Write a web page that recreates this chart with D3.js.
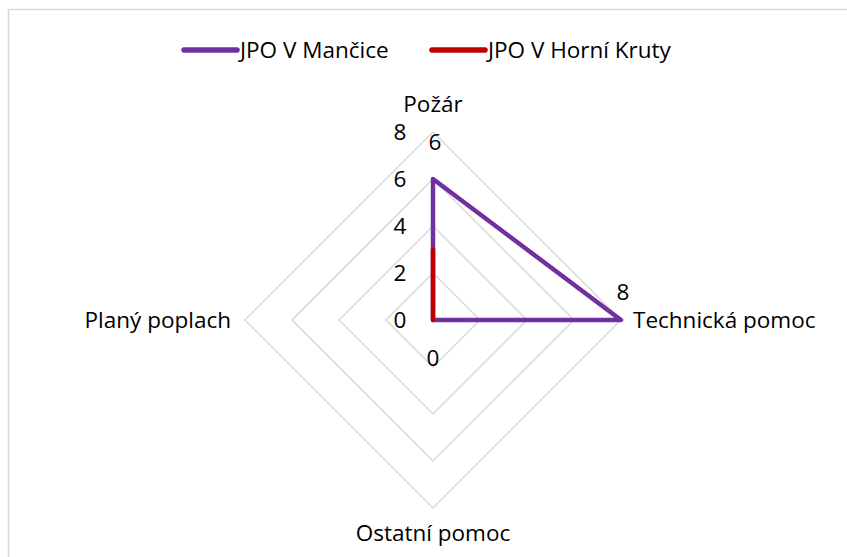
<!DOCTYPE html>
<html>
<head>
<meta charset="utf-8">
<script src="https://cdn.jsdelivr.net/npm/d3@7"></script>
<style>
  body { margin: 0; background: #fff; overflow: hidden; }
  svg { display: block; }
  text { font-family: "Open Sans", Lato, sans-serif; fill: #000; }
</style>
</head>
<body>
<svg width="847" height="557"></svg>
<script>
const categories = ['Požár', 'Technická pomoc', 'Ostatní pomoc', 'Planý poplach'];
const seriesNames = ['JPO V Mančice', 'JPO V Horní Kruty'];
const mancice = [6, 8, 0, 0];
const horniKruty = [3, 0, 0, 0];
const ticks = [0, 2, 4, 6, 8];
const colors = ['#7030a0', '#c00000'];

const svg = d3.select('svg');
const cx = 433, cy = 320, R = 188;
const fs = 22.5;
const r = d3.scaleLinear().domain([0, 8]).range([0, R]);
const angle = (i) => (i * Math.PI * 2) / categories.length;
const pt = (i, v) => [cx + r(v) * Math.sin(angle(i)), cy - r(v) * Math.cos(angle(i))];

// frame
svg.append('rect')
  .attr('x', 8.5).attr('y', 9.5)
  .attr('width', 900).attr('height', 600)
  .attr('fill', 'none').attr('stroke', '#d9d9d9').attr('stroke-width', 1.5);

// grid diamonds
const lineGen = d3.line();
svg.append('g').selectAll('path')
  .data(ticks.filter((t) => t > 0))
  .join('path')
  .attr('d', (t) => lineGen(categories.map((c, i) => pt(i, t))) + 'Z')
  .attr('fill', 'none')
  .attr('stroke', '#d9d9d9')
  .attr('stroke-width', 1.5);

// tick labels
svg.append('g').selectAll('text')
  .data(ticks)
  .join('text')
  .attr('x', cx - 33)
  .attr('y', (t) => cy - r(t))
  .attr('dy', '0.35em')
  .attr('text-anchor', 'middle')
  .attr('font-size', fs)
  .text((t) => t);

// category labels
const catPos = [
  { x: cx, y: 104, anchor: 'middle' },
  { x: 633, y: 320, anchor: 'start' },
  { x: cx, y: 533, anchor: 'middle' },
  { x: 231, y: 320, anchor: 'end' },
];
svg.append('g').selectAll('text')
  .data(categories)
  .join('text')
  .attr('x', (c, i) => catPos[i].x)
  .attr('y', (c, i) => catPos[i].y)
  .attr('dy', '0.35em')
  .attr('text-anchor', (c, i) => catPos[i].anchor)
  .attr('font-size', fs)
  .text((c) => c);

// series lines
const series = [mancice, horniKruty];
svg.append('g').selectAll('path')
  .data(series)
  .join('path')
  .attr('d', (vals) => lineGen(vals.map((v, i) => pt(i, v))) + 'Z')
  .attr('fill', 'none')
  .attr('stroke', (d, i) => colors[i])
  .attr('stroke-width', 4.5)
  .attr('stroke-linejoin', 'round')
  .attr('stroke-linecap', 'round');

// data labels (Mančice)
const labelOffsets = [[2, -37], [2, -28], [0, 38]];
svg.append('g').selectAll('text')
  .data(mancice.slice(0, 3))
  .join('text')
  .attr('x', (v, i) => pt(i, v)[0] + labelOffsets[i][0])
  .attr('y', (v, i) => pt(i, v)[1] + labelOffsets[i][1])
  .attr('dy', '0.35em')
  .attr('text-anchor', 'middle')
  .attr('font-size', fs)
  .text((v) => v);

// legend
const legendX = [184, 432];
const lg = svg.append('g').selectAll('g')
  .data(seriesNames)
  .join('g')
  .attr('transform', (d, i) => `translate(${legendX[i]},50)`);
lg.append('line')
  .attr('x1', 0).attr('x2', 53)
  .attr('stroke', (d, i) => colors[i])
  .attr('stroke-width', 5.5)
  .attr('stroke-linecap', 'round');
lg.append('text')
  .attr('x', 56)
  .attr('dy', '0.35em')
  .attr('font-size', fs)
  .text((d) => d);
</script>
</body>
</html>
